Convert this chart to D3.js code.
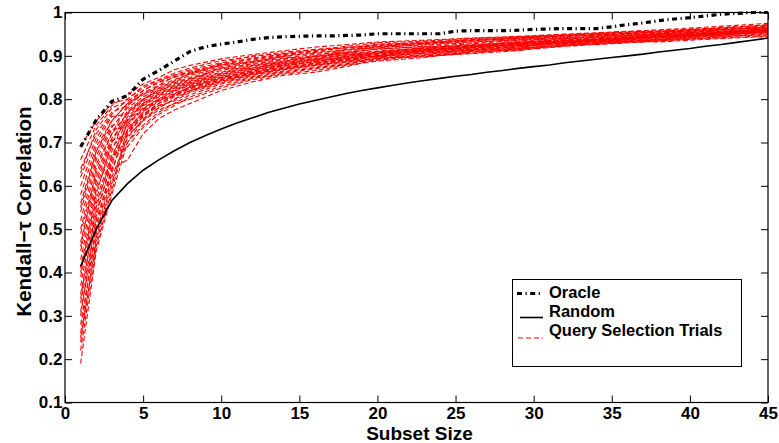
<!DOCTYPE html>
<html>
<head>
<meta charset="utf-8">
<script src="https://cdn.jsdelivr.net/npm/d3@7/dist/d3.min.js"></script>
<style>
  html, body { margin: 0; padding: 0; background: #fff; }
  svg { display: block; font-family: "Liberation Sans", Arial, Helvetica, sans-serif; }
</style>
</head>
<body>
<svg id="chart" width="779" height="443"></svg>
<script>
// Subset sizes for the oracle and random curves
const subsetSizes = d3.range(1, 46);

// Oracle ordering: best achievable correlation at each subset size
const oracle = [
  0.690, 0.752, 0.795, 0.808, 0.846, 0.866, 0.888, 0.910, 0.921, 0.927,
  0.932, 0.938, 0.942, 0.944, 0.945, 0.946, 0.946, 0.947, 0.948, 0.951,
  0.951, 0.951, 0.951, 0.951, 0.957, 0.958, 0.958, 0.958, 0.959, 0.961,
  0.962, 0.963, 0.963, 0.963, 0.967, 0.972, 0.976, 0.981, 0.985, 0.988,
  0.992, 0.996, 0.998, 1.000, 1.000
];

// Random subset selection (average)
const random = [
  0.414, 0.500, 0.566, 0.605, 0.636, 0.660, 0.681, 0.700, 0.716, 0.731,
  0.745, 0.757, 0.769, 0.779, 0.789, 0.797, 0.805, 0.813, 0.820, 0.826,
  0.832, 0.838, 0.843, 0.848, 0.853, 0.857, 0.862, 0.866, 0.871, 0.875,
  0.879, 0.884, 0.888, 0.892, 0.896, 0.900, 0.904, 0.909, 0.913, 0.917,
  0.922, 0.926, 0.931, 0.936, 0.941
];

// Subset sizes at which each query-selection trial was recorded
const trialSizes = [1, 2, 3, 4, 5, 6, 7, 8, 10, 12, 14, 16, 18, 20, 23, 26, 29, 32, 35, 38, 41, 45];

// Query selection trials
const trials = [
  [0.69,0.75,0.79,0.80,0.826,0.843,0.856,0.868,0.884,0.90,0.905,0.915,0.918,0.925,0.932,0.936,0.942,0.947,0.951,0.956,0.96,0.968],
  [0.66,0.74,0.785,0.81,0.835,0.85,0.868,0.878,0.893,0.903,0.912,0.92,0.926,0.932,0.936,0.941,0.945,0.95,0.955,0.96,0.966,0.975],
  [0.64,0.72,0.77,0.785,0.815,0.832,0.852,0.86,0.878,0.89,0.90,0.908,0.914,0.924,0.928,0.935,0.94,0.944,0.952,0.953,0.958,0.966],
  [0.62,0.71,0.765,0.80,0.83,0.845,0.86,0.872,0.889,0.898,0.909,0.914,0.922,0.93,0.934,0.94,0.944,0.948,0.953,0.957,0.962,0.97],
  [0.60,0.70,0.76,0.765,0.795,0.815,0.83,0.845,0.872,0.87,0.887,0.897,0.906,0.91,0.919,0.925,0.932,0.937,0.943,0.948,0.953,0.96],
  [0.58,0.69,0.75,0.79,0.82,0.838,0.85,0.865,0.88,0.893,0.903,0.91,0.92,0.922,0.93,0.938,0.94,0.946,0.949,0.955,0.962,0.972],
  [0.56,0.68,0.74,0.745,0.775,0.798,0.808,0.83,0.85,0.865,0.877,0.887,0.895,0.903,0.91,0.918,0.925,0.931,0.937,0.943,0.949,0.957],
  [0.54,0.67,0.735,0.78,0.805,0.825,0.84,0.855,0.872,0.885,0.895,0.903,0.91,0.92,0.925,0.93,0.938,0.942,0.946,0.951,0.957,0.967],
  [0.52,0.66,0.73,0.735,0.765,0.785,0.796,0.815,0.838,0.852,0.865,0.875,0.885,0.893,0.902,0.91,0.917,0.925,0.93,0.936,0.942,0.952],
  [0.50,0.65,0.72,0.787,0.81,0.83,0.845,0.858,0.875,0.887,0.898,0.89,0.915,0.918,0.927,0.932,0.937,0.945,0.948,0.952,0.96,0.964],
  [0.49,0.63,0.71,0.755,0.787,0.808,0.825,0.84,0.858,0.872,0.884,0.892,0.90,0.908,0.915,0.922,0.93,0.935,0.94,0.947,0.951,0.958],
  [0.47,0.62,0.705,0.715,0.75,0.775,0.79,0.80,0.826,0.845,0.858,0.866,0.878,0.888,0.896,0.91,0.913,0.922,0.928,0.934,0.94,0.946],
  [0.45,0.61,0.70,0.775,0.80,0.822,0.838,0.85,0.87,0.882,0.893,0.90,0.908,0.915,0.922,0.922,0.934,0.941,0.947,0.95,0.955,0.962],
  [0.43,0.60,0.69,0.725,0.765,0.79,0.81,0.825,0.846,0.86,0.872,0.882,0.891,0.899,0.907,0.915,0.922,0.928,0.935,0.942,0.947,0.955],
  [0.41,0.59,0.68,0.77,0.798,0.818,0.835,0.848,0.866,0.88,0.89,0.898,0.905,0.898,0.913,0.92,0.928,0.933,0.938,0.944,0.949,0.956],
  [0.39,0.57,0.67,0.69,0.735,0.765,0.785,0.805,0.83,0.848,0.86,0.87,0.88,0.895,0.898,0.906,0.916,0.924,0.931,0.938,0.945,0.948],
  [0.37,0.56,0.66,0.76,0.79,0.812,0.828,0.842,0.86,0.876,0.886,0.894,0.902,0.911,0.917,0.926,0.93,0.936,0.942,0.946,0.952,0.963],
  [0.35,0.54,0.65,0.745,0.78,0.80,0.82,0.834,0.853,0.868,0.879,0.889,0.896,0.906,0.912,0.921,0.926,0.932,0.939,0.944,0.952,0.959],
  [0.33,0.52,0.64,0.66,0.72,0.755,0.775,0.79,0.82,0.84,0.855,0.862,0.875,0.892,0.90,0.905,0.912,0.927,0.934,0.932,0.938,0.945],
  [0.31,0.50,0.63,0.75,0.785,0.805,0.822,0.836,0.855,0.87,0.882,0.89,0.898,0.905,0.914,0.92,0.927,0.934,0.941,0.945,0.95,0.961],
  [0.28,0.49,0.62,0.71,0.755,0.78,0.80,0.818,0.84,0.855,0.868,0.878,0.886,0.895,0.903,0.912,0.918,0.926,0.932,0.937,0.944,0.957],
  [0.25,0.47,0.60,0.73,0.77,0.795,0.812,0.828,0.848,0.862,0.874,0.884,0.893,0.90,0.909,0.916,0.923,0.93,0.936,0.94,0.948,0.956],
  [0.22,0.46,0.59,0.72,0.76,0.785,0.806,0.82,0.843,0.858,0.87,0.88,0.889,0.897,0.906,0.913,0.92,0.929,0.933,0.938,0.946,0.954],
  [0.19,0.45,0.58,0.70,0.74,0.77,0.79,0.81,0.835,0.85,0.863,0.872,0.882,0.89,0.90,0.908,0.915,0.923,0.929,0.935,0.941,0.95],
  [0.63,0.73,0.78,0.795,0.82,0.84,0.855,0.862,0.882,0.895,0.904,0.912,0.918,0.927,0.93,0.937,0.943,0.949,0.954,0.958,0.963,0.971],
  [0.55,0.68,0.75,0.79,0.812,0.826,0.842,0.86,0.879,0.886,0.899,0.906,0.913,0.921,0.929,0.934,0.941,0.946,0.95,0.955,0.959,0.965],
  [0.46,0.64,0.72,0.768,0.80,0.82,0.832,0.846,0.862,0.878,0.888,0.899,0.907,0.916,0.921,0.928,0.936,0.94,0.946,0.95,0.956,0.962],
  [0.40,0.58,0.70,0.752,0.79,0.81,0.826,0.838,0.857,0.873,0.883,0.893,0.903,0.909,0.918,0.924,0.931,0.939,0.944,0.949,0.954,0.96],
  [0.34,0.55,0.67,0.74,0.778,0.80,0.818,0.832,0.851,0.866,0.88,0.886,0.899,0.907,0.916,0.923,0.929,0.936,0.94,0.946,0.951,0.958],
  [0.30,0.53,0.66,0.728,0.772,0.797,0.814,0.827,0.85,0.862,0.876,0.886,0.894,0.904,0.911,0.919,0.926,0.933,0.938,0.943,0.95,0.959],
  [0.26,0.51,0.64,0.722,0.762,0.79,0.808,0.824,0.845,0.86,0.871,0.883,0.892,0.901,0.912,0.918,0.924,0.931,0.939,0.944,0.949,0.961],
  [0.24,0.48,0.61,0.70,0.752,0.78,0.80,0.82,0.842,0.857,0.869,0.879,0.887,0.899,0.906,0.914,0.921,0.93,0.935,0.941,0.947,0.953]
];

const xTicks = [0, 5, 10, 15, 20, 25, 30, 35, 40, 45];
const yTicks = [0.1, 0.2, 0.3, 0.4, 0.5, 0.6, 0.7, 0.8, 0.9, 1];

const legendLabels = ["Oracle", "Random", "Query Selection Trials"];

const margin = { left: 65, top: 12.5, right: 11, bottom: 40.5 };
const svg = d3.select("#chart");
const W = +svg.attr("width"), H = +svg.attr("height");
const w = W - margin.left - margin.right;
const h = H - margin.top - margin.bottom;

const x = d3.scaleLinear().domain([0, 45]).range([0, w]);
const y = d3.scaleLinear().domain([0.1, 1]).range([h, 0]);

const g = svg.append("g").attr("transform", `translate(${margin.left},${margin.top})`);

// clip lines to the axes box
svg.append("defs").append("clipPath").attr("id", "plotClip")
  .append("rect").attr("x", -1).attr("y", -2).attr("width", w + 2).attr("height", h + 3);

const tickFont = "bold 17px 'Liberation Sans', Arial, sans-serif";
const tickLen = 7;

// Axes: labelled bottom and left, mirrored inward ticks on top and right
const xAxisB = d3.axisBottom(x).tickValues(xTicks).tickSizeInner(-tickLen).tickSizeOuter(0).tickPadding(4.5)
  .tickFormat(d3.format("d"));
const xAxisT = d3.axisTop(x).tickValues(xTicks).tickSizeInner(-tickLen).tickSizeOuter(0).tickFormat("");
const yAxisL = d3.axisLeft(y).tickValues(yTicks).tickSizeInner(-tickLen).tickSizeOuter(0).tickPadding(2.5)
  .tickFormat(d => d === 1 ? "1" : d3.format(".1f")(d));
const yAxisR = d3.axisRight(y).tickValues(yTicks).tickSizeInner(-tickLen).tickSizeOuter(0).tickFormat("");

function styleAxis(sel) {
  sel.select(".domain").remove();
  sel.selectAll(".tick line").attr("stroke", "#000").attr("stroke-width", 1);
  sel.selectAll(".tick text").style("font", tickFont).attr("fill", "#000");
}

g.append("g").attr("transform", `translate(0,${h})`).call(xAxisB).call(styleAxis);
g.append("g").call(xAxisT).call(styleAxis);
g.append("g").call(yAxisL).call(styleAxis);
g.append("g").attr("transform", `translate(${w},0)`).call(yAxisR).call(styleAxis);

const plot = g.append("g").attr("clip-path", "url(#plotClip)");

const lineXY = (xs) => d3.line().x((d, i) => x(xs[i])).y(d => y(d));

// Query selection trials (red dashed)
plot.append("g").selectAll("path").data(trials).join("path")
  .attr("d", lineXY(trialSizes))
  .attr("fill", "none")
  .attr("stroke", "#ff0000")
  .attr("stroke-width", 1.1)
  .attr("stroke-dasharray", "5,2.5");

// Oracle (thick dash-dot)
plot.append("path").datum(oracle)
  .attr("d", lineXY(subsetSizes))
  .attr("fill", "none")
  .attr("stroke", "#000")
  .attr("stroke-width", 3.2)
  .attr("stroke-dasharray", "5,3.5,1.2,3.5");

// Random (solid)
plot.append("path").datum(random)
  .attr("d", lineXY(subsetSizes))
  .attr("fill", "none")
  .attr("stroke", "#000")
  .attr("stroke-width", 1.6);

// Axes box
g.append("rect").attr("x", 0).attr("y", 0).attr("width", w).attr("height", h)
  .attr("fill", "none").attr("stroke", "#000").attr("stroke-width", 1.2);

// Axis titles
svg.append("text")
  .attr("x", margin.left + x(22.5) + 3).attr("y", 440)
  .attr("text-anchor", "middle")
  .style("font", "bold 19px 'Liberation Sans', Arial, sans-serif")
  .text("Subset Size");

svg.append("text")
  .attr("transform", `translate(31,${margin.top + y(0.55) + 4}) rotate(-90)`)
  .attr("text-anchor", "middle")
  .style("font", "bold 20.5px 'Liberation Sans', Arial, sans-serif")
  .text("Kendall\u2212\u03c4 Correlation");

// Legend
const lg = svg.append("g");
lg.append("rect").attr("x", 512.5).attr("y", 279.5).attr("width", 229).attr("height", 87)
  .attr("fill", "#fff").attr("stroke", "#000").attr("stroke-width", 1);

const legendStyles = [
  { stroke: "#000", width: 3, dash: "5,3.5,1.2,3.5", ly: 293.5, x1: 517, ty: 297.5 },
  { stroke: "#000", width: 1.6, dash: null, ly: 317.5, x1: 520, ty: 316.5 },
  { stroke: "#ff0000", width: 1.1, dash: "5,3", ly: 338, x1: 518, ty: 335.5 }
];
legendLabels.forEach((lbl, i) => {
  const s = legendStyles[i];
  lg.append("line").attr("x1", s.x1).attr("x2", 543).attr("y1", s.ly).attr("y2", s.ly)
    .attr("stroke", s.stroke).attr("stroke-width", s.width)
    .attr("stroke-dasharray", s.dash);
  lg.append("text").attr("x", 549).attr("y", s.ty)
    .style("font", "bold 16.5px 'Liberation Sans', Arial, sans-serif")
    .text(lbl);
});
</script>
</body>
</html>
